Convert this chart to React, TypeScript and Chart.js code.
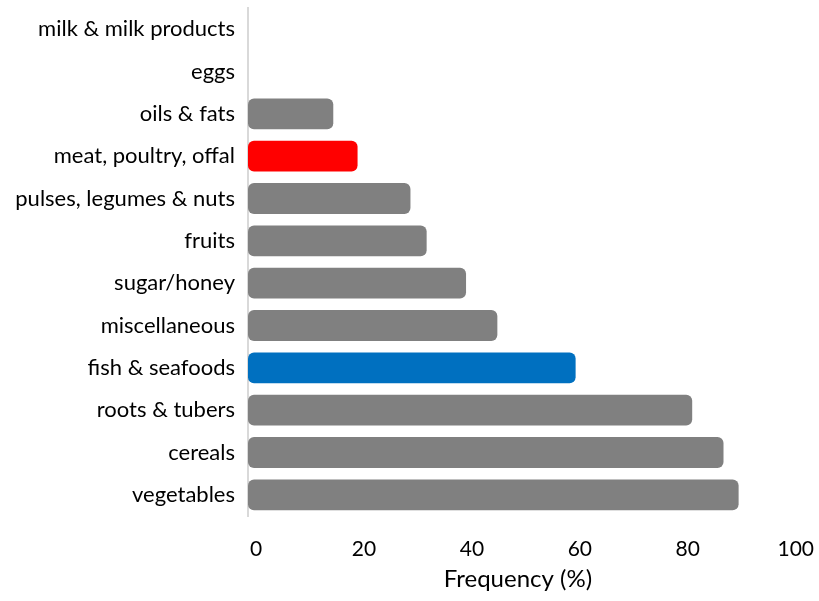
import React, { useEffect, useRef } from "react";
import { Chart, registerables } from "chart.js";

Chart.register(...registerables);

const categories = [
  "milk & milk products",
  "eggs",
  "oils & fats",
  "meat, poultry, offal",
  "pulses, legumes & nuts",
  "fruits",
  "sugar/honey",
  "miscellaneous",
  "fish & seafoods",
  "roots & tubers",
  "cereals",
  "vegetables",
];

const frequency = [0, 0, 15.8, 20.3, 30.1, 33.1, 40.4, 46.2, 60.7, 82.3, 88.1, 90.9];

const barColors = [
  "#808080", "#808080", "#808080", "#FF0000", "#808080", "#808080",
  "#808080", "#808080", "#0070C0", "#808080", "#808080", "#808080",
];

const xTicks = [0, 20, 40, 60, 80, 100];

export default function App() {
  const ref = useRef<HTMLCanvasElement>(null);

  useEffect(() => {
    if (!ref.current) return;
    const font = "Lato";
    const chart = new Chart(ref.current, {
      type: "bar",
      data: {
        labels: categories,
        datasets: [
          {
            data: frequency,
            backgroundColor: barColors,
            borderRadius: 6,
            borderSkipped: false,
            barPercentage: 0.73,
            categoryPercentage: 1,
          },
        ],
      },
      options: {
        indexAxis: "y",
        animation: false,
        responsive: false,
        maintainAspectRatio: false,
        layout: { padding: { left: 0, right: 31, top: 8, bottom: 0 } },
        plugins: {
          legend: { display: false },
          tooltip: { enabled: false },
        },
        scales: {
          x: {
            min: 0,
            max: 100,
            afterBuildTicks: (scale: any) => {
              scale.ticks = xTicks.map((v) => ({ value: v }));
            },
            afterFit: (scale: any) => {
              scale.height = 85;
            },
            grid: { display: false },
            border: { display: false },
            ticks: {
              padding: 13,
              labelOffset: 8,
              maxRotation: 0,
              color: "#000",
              font: { family: font, size: 21 },
            },
            title: {
              display: true,
              text: "Frequency (%)",
              color: "#000",
              font: { family: font, size: 24 },
              padding: { top: 0, bottom: 7 },
            },
          },
          y: {
            afterFit: (scale: any) => {
              scale.width = 248;
              scale.paddingTop = 0;
              scale.paddingBottom = 0;
            },
            grid: { display: false },
            border: { display: true, color: "#d9d9d9", width: 2 },
            ticks: {
              padding: 5,
              color: "#000",
              font: { family: font, size: 22 },
            },
          },
        },
      },
    });
    return () => chart.destroy();
  }, []);

  return (
    <div style={{ position: "fixed", left: 0, top: 0, width: 819, height: 601, background: "#fff" }}>
      <canvas ref={ref} width={819} height={601} style={{ width: 819, height: 601 }} />
    </div>
  );
}
